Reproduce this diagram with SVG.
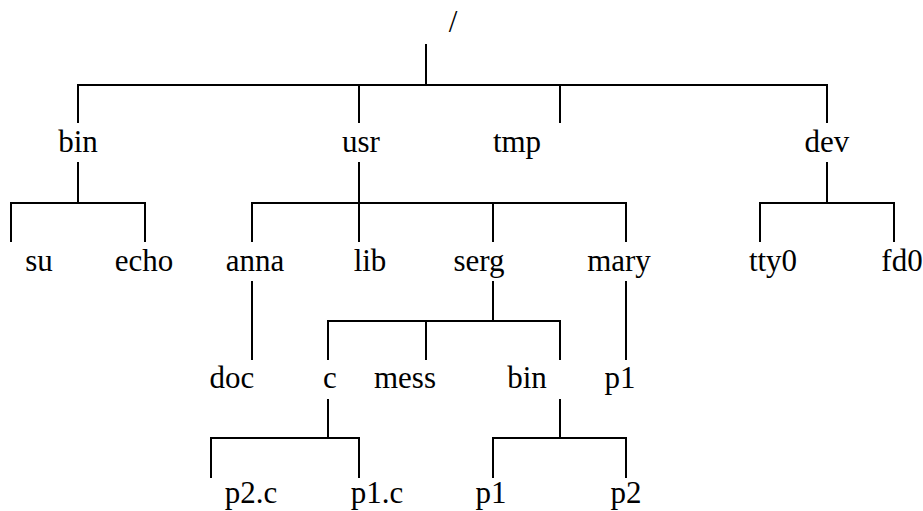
<svg xmlns="http://www.w3.org/2000/svg" width="923" height="511" viewBox="0 0 923 511">
<style>
.t text{font-size:31px;fill:#000;text-anchor:middle}
.c line{stroke:#000;stroke-width:2;fill:none}
</style>
<rect width="923" height="511" fill="#fff"/>
<g class="c" id="connectors">
<line x1="426" y1="44" x2="426" y2="85"/>
<line x1="77" y1="85" x2="828" y2="85"/>
<line x1="78" y1="85" x2="78" y2="123"/>
<line x1="359" y1="85" x2="359" y2="123"/>
<line x1="560" y1="85" x2="560" y2="123"/>
<line x1="827" y1="85" x2="827" y2="123"/>
<line x1="78" y1="162" x2="78" y2="203"/>
<line x1="10" y1="203" x2="146" y2="203"/>
<line x1="11" y1="203" x2="11" y2="242"/>
<line x1="145" y1="203" x2="145" y2="242"/>
<line x1="359" y1="162" x2="359" y2="242"/>
<line x1="251" y1="203" x2="627" y2="203"/>
<line x1="252" y1="203" x2="252" y2="242"/>
<line x1="493" y1="203" x2="493" y2="242"/>
<line x1="626" y1="203" x2="626" y2="242"/>
<line x1="827" y1="162" x2="827" y2="203"/>
<line x1="759" y1="203" x2="895" y2="203"/>
<line x1="760" y1="203" x2="760" y2="242"/>
<line x1="894" y1="203" x2="894" y2="242"/>
<line x1="252" y1="281" x2="252" y2="360"/>
<line x1="493" y1="281" x2="493" y2="321"/>
<line x1="327" y1="321" x2="561" y2="321"/>
<line x1="328" y1="321" x2="328" y2="360"/>
<line x1="426" y1="321" x2="426" y2="360"/>
<line x1="560" y1="321" x2="560" y2="360"/>
<line x1="626" y1="281" x2="626" y2="360"/>
<line x1="328" y1="399" x2="328" y2="438"/>
<line x1="210" y1="438" x2="360" y2="438"/>
<line x1="211" y1="438" x2="211" y2="478"/>
<line x1="359" y1="438" x2="359" y2="478"/>
<line x1="560" y1="399" x2="560" y2="438"/>
<line x1="492" y1="438" x2="627" y2="438"/>
<line x1="493" y1="438" x2="493" y2="478"/>
<line x1="626" y1="438" x2="626" y2="478"/>
</g>
<g class="t" font-family="'Liberation Serif', Tinos, 'Times New Roman', 'DejaVu Serif', serif">
<g id="root"><text x="453" y="32">/</text></g>
<g id="bin"><text x="78" y="152">bin</text></g>
<g id="usr"><text x="361" y="152">usr</text></g>
<g id="tmp"><text x="517" y="152">tmp</text></g>
<g id="dev"><text x="827" y="152">dev</text></g>
<g id="su"><text x="39" y="271">su</text></g>
<g id="echo"><text x="144" y="271">echo</text></g>
<g id="anna"><text x="255" y="271">anna</text></g>
<g id="lib"><text x="370" y="271">lib</text></g>
<g id="serg"><text x="479" y="271">serg</text></g>
<g id="mary"><text x="619" y="271">mary</text></g>
<g id="tty0"><text x="773" y="271">tty0</text></g>
<g id="fd0"><text x="902" y="271">fd0</text></g>
<g id="doc"><text x="232" y="388">doc</text></g>
<g id="c"><text x="330" y="388">c</text></g>
<g id="mess"><text x="405" y="388">mess</text></g>
<g id="serg-bin"><text x="527" y="388">bin</text></g>
<g id="mary-p1"><text x="620" y="388">p1</text></g>
<g id="p2c"><text x="251" y="503">p2.c</text></g>
<g id="p1c"><text x="377" y="503">p1.c</text></g>
<g id="bin-p1"><text x="491" y="503">p1</text></g>
<g id="bin-p2"><text x="626" y="503">p2</text></g>
</g>
</svg>
